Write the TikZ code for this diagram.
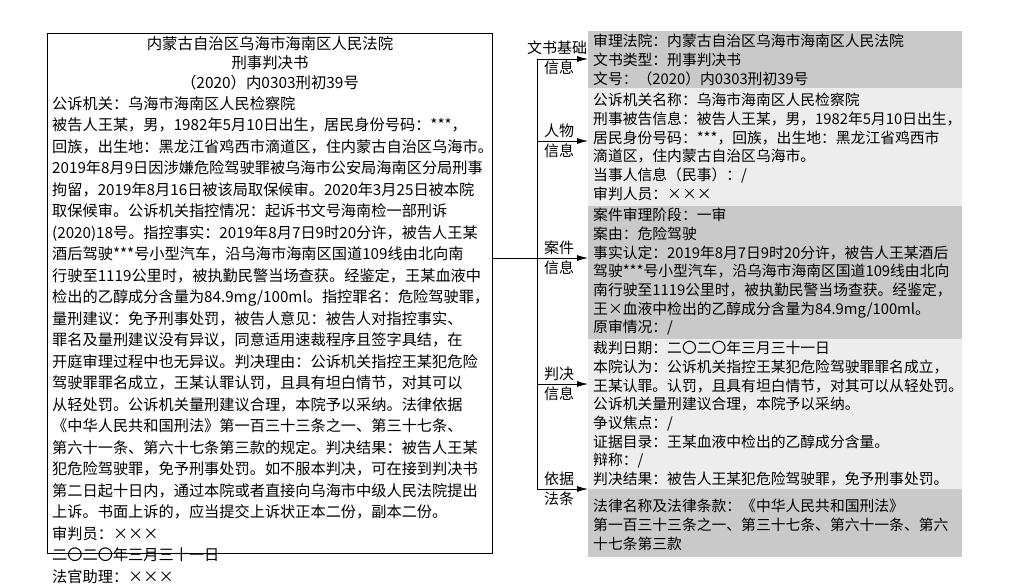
\documentclass[tikz,border=0pt]{standalone}
\usepackage{fontspec}
\setmainfont{Noto Sans CJK SC}
\usetikzlibrary{arrows.meta}
\definecolor{pdark}{HTML}{C9C9C9}
\definecolor{plight}{HTML}{EDEDED}
\newcommand\mytight{\lineskiplimit=-30pt\relax\lineskip=0pt\relax}
\tikzset{
  lefttext/.style={anchor=north west,inner sep=0,align=left,font=\fontsize{15.2}{21.5}\selectfont\mytight},
  righttext/.style={anchor=north west,inner sep=0,align=left,font=\fontsize{14.8}{18.7}\selectfont\mytight},
  panel/.style={anchor=north west,inner sep=0,minimum width=374pt},
  lab/.style={inner sep=0,font=\fontsize{15}{16}\selectfont},
  arr/.style={-{Latex[length=11pt,width=6pt]},line width=0.8pt},
  conn/.style={line width=0.8pt}
}
\begin{document}
\begin{tikzpicture}[x=1pt,y=-1pt]
\useasboundingbox (0,0) rectangle (1026,587);
% left document box
\node[draw,line width=1pt,anchor=north west,minimum width=445pt,minimum height=520pt,inner sep=0] (doc) at (47,33) {};
\node[inner sep=0,align=center,font=\fontsize{15.4}{19.5}\selectfont\mytight,anchor=north] (head) at (270,36) {内蒙古自治区乌海市海南区人民法院\\刑事判决书\\（2020）内0303刑初39号};
\node[lefttext] (body) at (52,96) {公诉机关：乌海市海南区人民检察院\\
被告人王某，男，1982年5月10日出生，居民身份号码：***，\\
回族，出生地：黑龙江省鸡西市滴道区，住内蒙古自治区乌海市。\\
2019年8月9日因涉嫌危险驾驶罪被乌海市公安局海南区分局刑事\\
拘留，2019年8月16日被该局取保候审。2020年3月25日被本院\\
取保候审。公诉机关指控情况：起诉书文号海南检一部刑诉\\
(2020)18号。指控事实：2019年8月7日9时20分许，被告人王某\\
酒后驾驶***号小型汽车，沿乌海市海南区国道109线由北向南\\
行驶至1119公里时，被执勤民警当场查获。经鉴定，王某血液中\\
检出的乙醇成分含量为84.9mg/100ml。指控罪名：危险驾驶罪，\\
量刑建议：免予刑事处罚，被告人意见：被告人对指控事实、\\
罪名及量刑建议没有异议，同意适用速裁程序且签字具结，在\\
开庭审理过程中也无异议。判决理由：公诉机关指控王某犯危险\\
驾驶罪罪名成立，王某认罪认罚，且具有坦白情节，对其可以\\
从轻处罚。公诉机关量刑建议合理，本院予以采纳。法律依据\\
《中华人民共和国刑法》第一百三十三条之一、第三十七条、\\
第六十一条、第六十七条第三款的规定。判决结果：被告人王某\\
犯危险驾驶罪，免予刑事处罚。如不服本判决，可在接到判决书\\
第二日起十日内，通过本院或者直接向乌海市中级人民法院提出\\
上诉。书面上诉的，应当提交上诉状正本二份，副本二份。\\
审判员：×××\\
二〇二〇年三月三十一日\\
法官助理：×××\\
书\ \ 记\ \ 员：×××};
% panels
\node[panel,fill=pdark,minimum height=57pt] (p1) at (588,31) {};
\node[panel,fill=plight,minimum height=118pt] (p2) at (588,88) {};
\node[panel,fill=pdark,minimum height=133pt] (p3) at (588,206) {};
\node[panel,fill=plight,minimum height=150pt] (p4) at (588,339) {};
\node[panel,fill=pdark,minimum height=68pt] (p5) at (588,489) {};
\node[righttext] (t1) at (593,34) {审理法院：内蒙古自治区乌海市海南区人民法院\\文书类型：刑事判决书\\文号：（2020）内0303刑初39号};
\node[righttext] (t2) at (593,93) {公诉机关名称：乌海市海南区人民检察院\\
刑事被告信息：被告人王某，男，1982年5月10日出生，\\
居民身份号码：***，回族，出生地：黑龙江省鸡西市\\
滴道区，住内蒙古自治区乌海市。\\
当事人信息（民事）：/\\
审判人员：×××};
\node[righttext] (t3) at (593,208) {案件审理阶段：一审\\
案由：危险驾驶\\
事实认定：2019年8月7日9时20分许，被告人王某酒后\\
驾驶***号小型汽车，沿乌海市海南区国道109线由北向\\
南行驶至1119公里时，被执勤民警当场查获。经鉴定，\\
王×血液中检出的乙醇成分含量为84.9mg/100ml。\\
原审情况：/};
\node[righttext] (t4) at (593,341) {裁判日期：二〇二〇年三月三十一日\\
本院认为：公诉机关指控王某犯危险驾驶罪罪名成立，\\
王某认罪。认罚，且具有坦白情节，对其可以从轻处罚。\\
公诉机关量刑建议合理，本院予以采纳。\\
争议焦点：/\\
证据目录：王某血液中检出的乙醇成分含量。\\
辩称：/\\
判决结果：被告人王某犯危险驾驶罪，免予刑事处罚。};
\node[righttext] (t5) at (593,499) {法律名称及法律条款：《中华人民共和国刑法》\\
第一百三十三条之一、第三十七条、第六十一条、第六\\
十七条第三款};
% connectors
\coordinate (b0) at (537,258);
\coordinate (b1) at (537,59);
\coordinate (b2) at (537,141);
\coordinate (b3) at (537,258);
\coordinate (b4) at (537,384);
\coordinate (b5) at (537,489);
\draw[conn] (doc.east |- b0) -- (b0);
\draw[conn] (b1) -- (b5);
\draw[arr] (b1) -- (b1 -| p1.west);
\draw[arr] (b2) -- (b2 -| p2.west);
\draw[arr] (b3) -- (b3 -| p3.west);
\draw[arr] (b4) -- (b4 -| p4.west);
\draw[arr] (b5) -- (b5 -| p5.west);
% labels
\node[lab] (l1a) at (557,48) {文书基础};
\node[lab] (l1b) at (559,68) {信息};
\node[lab] (l2a) at (559,131) {人物};
\node[lab] (l2b) at (559,151) {信息};
\node[lab] (l3a) at (559,248) {案件};
\node[lab] (l3b) at (559,268) {信息};
\node[lab] (l4a) at (559,374) {判决};
\node[lab] (l4b) at (559,394) {信息};
\node[lab] (l5a) at (559,479) {依据};
\node[lab] (l5b) at (559,499) {法条};
\end{tikzpicture}
\end{document}
